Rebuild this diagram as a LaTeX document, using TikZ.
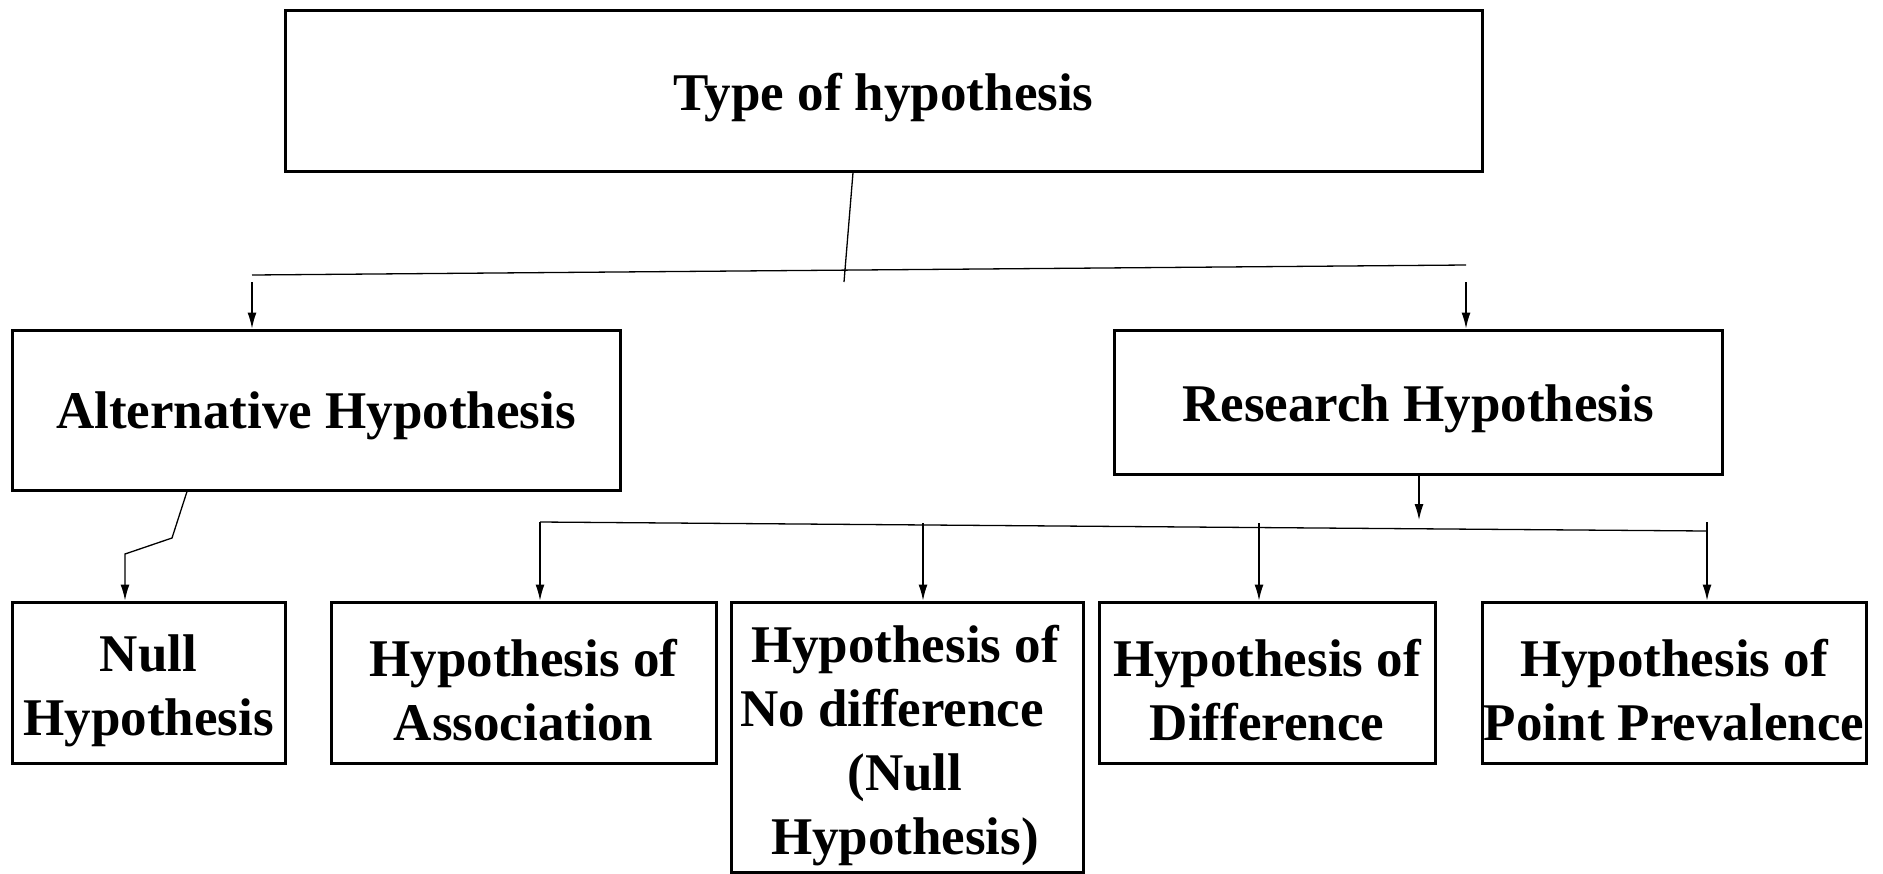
\documentclass[tikz,border=0pt]{standalone}
\usepackage{fontspec}
\setmainfont{Liberation Serif}
\usetikzlibrary{arrows.meta,calc}
\tikzset{
  box/.style={draw, line width=1.5pt, inner sep=0pt},
  lbl/.style={align=center, inner sep=0pt,
    font=\fontsize{26.5}{32}\selectfont\bfseries},
  conn/.style={line width=0.65pt},
  arr/.style={line width=0.65pt, -{Latex[length=8pt,width=4.5pt]}}
}
\begin{document}
\begin{tikzpicture}[x=0.5pt,y=-0.5pt]
\useasboundingbox (0,0) rectangle (1883,873);
% boxes
\node[box, minimum width=598.5pt, minimum height=80.5pt] (top) at (883.5,90.5) {};
\node[box, minimum width=304pt, minimum height=80pt] (alt) at (316,410) {};
\node[box, minimum width=304pt, minimum height=72pt] (res) at (1418,402) {};
\node[box, minimum width=136.5pt, minimum height=80.5pt] (null) at (148.5,682.5) {};
\node[box, minimum width=192.5pt, minimum height=80.5pt] (assoc) at (523.5,682.5) {};
\node[box, minimum width=176pt, minimum height=135pt] (nodiff) at (907,737) {};
\node[box, minimum width=168pt, minimum height=80.5pt] (diff) at (1267,682.5) {};
\node[box, minimum width=192pt, minimum height=80.5pt] (point) at (1674,682.5) {};
% labels
\node[lbl] (topT) at ([yshift=-3.5pt]top.center) {Type of hypothesis};
\node[lbl] (altT) at ([yshift=-3pt]alt.center) {Alternative Hypothesis};
\node[lbl] (resT) at ([yshift=-3.5pt]res.center) {Research Hypothesis};
\node[lbl] (nullT) at ([yshift=-4pt]null.center) {Null\\Hypothesis};
\node[lbl] (assocT) at ([yshift=-4pt]assoc.center) {Hypothesis of\\Association};
\node[lbl] (nodiffT) at ([yshift=-4.5pt,xshift=-1pt]nodiff.center) {Hypothesis of\\\hbox{No difference\hspace{13pt}}\\(Null\\Hypothesis)};
\node[lbl] (diffT) at ([yshift=-4pt]diff.center) {Hypothesis of\\Difference};
\node[lbl] (pointT) at ([yshift=-4pt]point.center) {Hypothesis of\\Point Prevalence};
% level 1 connectors
\coordinate (j1) at (844,282);
\coordinate (hl) at (252,275);
\coordinate (hr) at (1466,265);
\coordinate (la) at (252,282);
\coordinate (ra) at (1466,282);
\draw[conn] ([xshift=-15.25pt]top.south) -- (j1);
\draw[conn] (hl) -- (hr);
\draw[arr] (la) -- (la |- alt.north);
\draw[arr] (ra) -- (ra |- res.north);
% research connectors
\coordinate (rd) at (1419,520);
\draw[arr] (res.south -| rd) -- (rd);
\coordinate (h2l) at (540,522);
\coordinate (h2r) at (1707,531);
\coordinate (b1) at (540,522);
\coordinate (b2) at (923,523);
\coordinate (b3) at (1259,523);
\coordinate (b4) at (1707,522);
\draw[conn] (h2l) -- (h2r);
\draw[arr] (b1) -- (b1 |- assoc.north);
\draw[arr] (b2) -- (b2 |- nodiff.north);
\draw[arr] (b3) -- (b3 |- diff.north);
\draw[arr] (b4) -- (b4 |- point.north);
% null connector
\coordinate (n1) at (172,538);
\coordinate (n2) at (125,554);
\draw[arr] ([xshift=-64.5pt]alt.south) -- (n1) -- (n2) -- (n2 |- null.north);
\end{tikzpicture}
\end{document}
